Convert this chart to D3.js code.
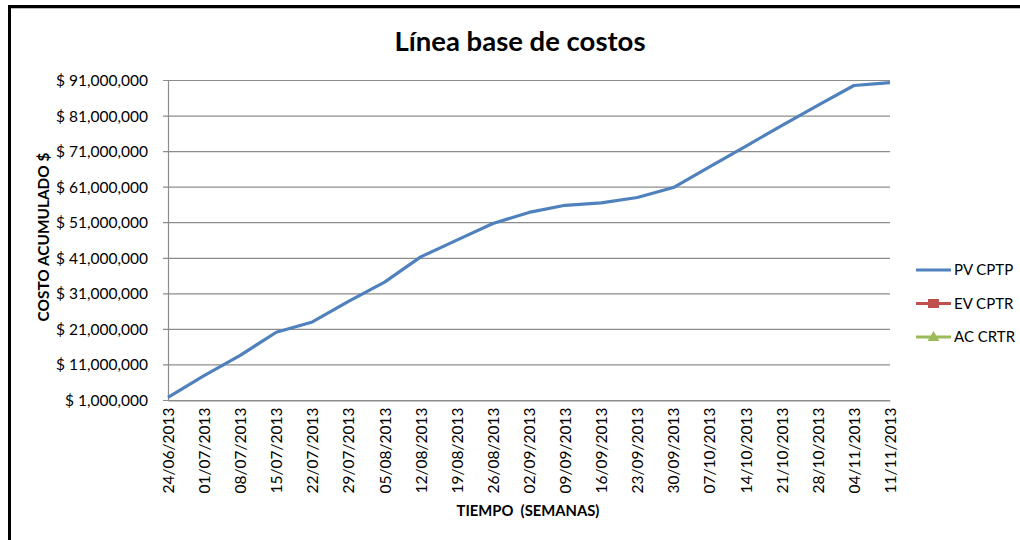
<!DOCTYPE html>
<html>
<head>
<meta charset="utf-8">
<script src="https://cdn.jsdelivr.net/npm/d3@7"></script>
<style>
  body { margin: 0; background: #fff; }
  text { font-family: Lato, "Liberation Sans", sans-serif; fill: #000; }
</style>
</head>
<body>
<script>
// Línea base de costos - cumulative planned cost per week

var weeks = ["24/06/2013", "01/07/2013", "08/07/2013", "15/07/2013", "22/07/2013",
             "29/07/2013", "05/08/2013", "12/08/2013", "19/08/2013", "26/08/2013",
             "02/09/2013", "09/09/2013", "16/09/2013", "23/09/2013", "30/09/2013",
             "07/10/2013", "14/10/2013", "21/10/2013", "28/10/2013", "04/11/2013",
             "11/11/2013"];

// PV CPTP (cumulative planned value)
var pvValues = [1900000, 8000000, 13700000, 20200000, 23100000,
                28900000, 34300000, 41400000, 46100000, 50800000,
                53900000, 55900000, 56600000, 58100000, 60900000,
                66700000, 72500000, 78300000, 84000000, 89600000,
                90400000];

var yTicks = [1000000, 11000000, 21000000, 31000000, 41000000,
              51000000, 61000000, 71000000, 81000000, 91000000];

var legendNames = ["PV CPTP", "EV CPTR", "AC CRTR"];
var legendColors = ["#4F81BD", "#C0504D", "#9BBB59"];

var W = 1020, H = 540;
var plot = {left: 168, right: 890, top: 80.5, bottom: 400.5};

var svg = d3.select("body").append("svg")
            .attr("width", W)
            .attr("height", H);

// frame borders (top and left only are visible)
svg.append("rect").attr("x", 8).attr("y", 5).attr("width", W - 8).attr("height", 3).attr("fill", "#000");
svg.append("rect").attr("x", 8).attr("y", 8).attr("width", W - 8).attr("height", 1).attr("fill", "#bbb");
svg.append("rect").attr("x", 8).attr("y", 5).attr("width", 3).attr("height", H - 5).attr("fill", "#000");

// scales
var xScale = d3.scalePoint().domain(weeks).range([plot.left, plot.right]);
var yScale = d3.scaleLinear().domain([1000000, 91000000]).range([plot.bottom, plot.top]);

var fmt = d => "$ " + d3.format(",")(d);

// gridlines
svg.append("g")
   .selectAll("line")
   .data(yTicks)
   .enter()
   .append("line")
   .attr("x1", plot.left - 5)
   .attr("x2", plot.right)
   .attr("y1", d => yScale(d))
   .attr("y2", d => yScale(d))
   .attr("stroke", "#8c8c8c")
   .attr("stroke-width", 1.2);

// y axis
var yAxis = d3.axisLeft(yScale)
              .tickValues(yTicks)
              .tickSize(0)
              .tickPadding(20)
              .tickFormat(fmt);

var yg = svg.append("g")
            .attr("transform", "translate(" + plot.left + ",0)")
            .call(yAxis);
yg.select(".domain").attr("stroke", "#8c8c8c").attr("stroke-width", 1.2);
yg.selectAll("text").style("font-size", "15.5px").attr("fill", "#000");

// x axis
var xAxis = d3.axisBottom(xScale).tickSize(0).tickPadding(0);
var xg = svg.append("g")
            .attr("transform", "translate(0," + plot.bottom + ")")
            .call(xAxis);
xg.select(".domain").attr("stroke", "#8c8c8c").attr("stroke-width", 1.2);
xg.selectAll("text")
  .style("font-size", "15.5px")
  .attr("fill", "#000")
  .attr("text-anchor", "end")
  .attr("transform", "rotate(-90)")
  .attr("x", -7)
  .attr("y", 0)
  .attr("dy", "0.35em");

// line
var line = d3.line()
    .x((d, i) => xScale(weeks[i]))
    .y(d => yScale(d));

svg.append("path")
   .datum(pvValues)
   .attr("d", line)
   .attr("fill", "none")
   .attr("stroke", legendColors[0])
   .attr("stroke-width", 3.2)
   .attr("stroke-linejoin", "round");

// titles
svg.append("text")
   .attr("x", 520)
   .attr("y", 51)
   .attr("text-anchor", "middle")
   .style("font-size", "27.5px")
   .style("font-weight", "bold")
   .text("Línea base de costos");

svg.append("text")
   .attr("x", 528)
   .attr("y", 516)
   .attr("text-anchor", "middle")
   .style("font-size", "14.8px")
   .style("font-weight", "bold")
   .style("white-space", "pre")
   .text("TIEMPO  (SEMANAS)");

svg.append("text")
   .attr("transform", "translate(49,237) rotate(-90)")
   .attr("text-anchor", "middle")
   .style("font-size", "15.4px")
   .style("font-weight", "bold")
   .text("COSTO ACUMULADO $");

// legend
var legend = svg.selectAll(".legend")
                .data(legendNames)
                .enter()
                .append("g")
                .attr("class", "legend")
                .attr("transform", (d, i) => "translate(916," + (270 + i * 33.5) + ")");

legend.append("line")
      .attr("x1", 0)
      .attr("x2", 35)
      .attr("stroke", (d, i) => legendColors[i])
      .attr("stroke-width", 3.2);

legend.filter((d, i) => i === 1)
      .append("rect")
      .attr("x", 12).attr("y", -4.5)
      .attr("width", 11).attr("height", 9)
      .attr("fill", legendColors[1]);

legend.filter((d, i) => i === 2)
      .append("path")
      .attr("d", "M17.5,-6 L23.5,4 L11.5,4 Z")
      .attr("fill", legendColors[2]);

legend.append("text")
      .attr("x", 38)
      .attr("dy", "0.35em")
      .style("font-size", "15px")
      .text(d => d);
</script>
</body>
</html>
